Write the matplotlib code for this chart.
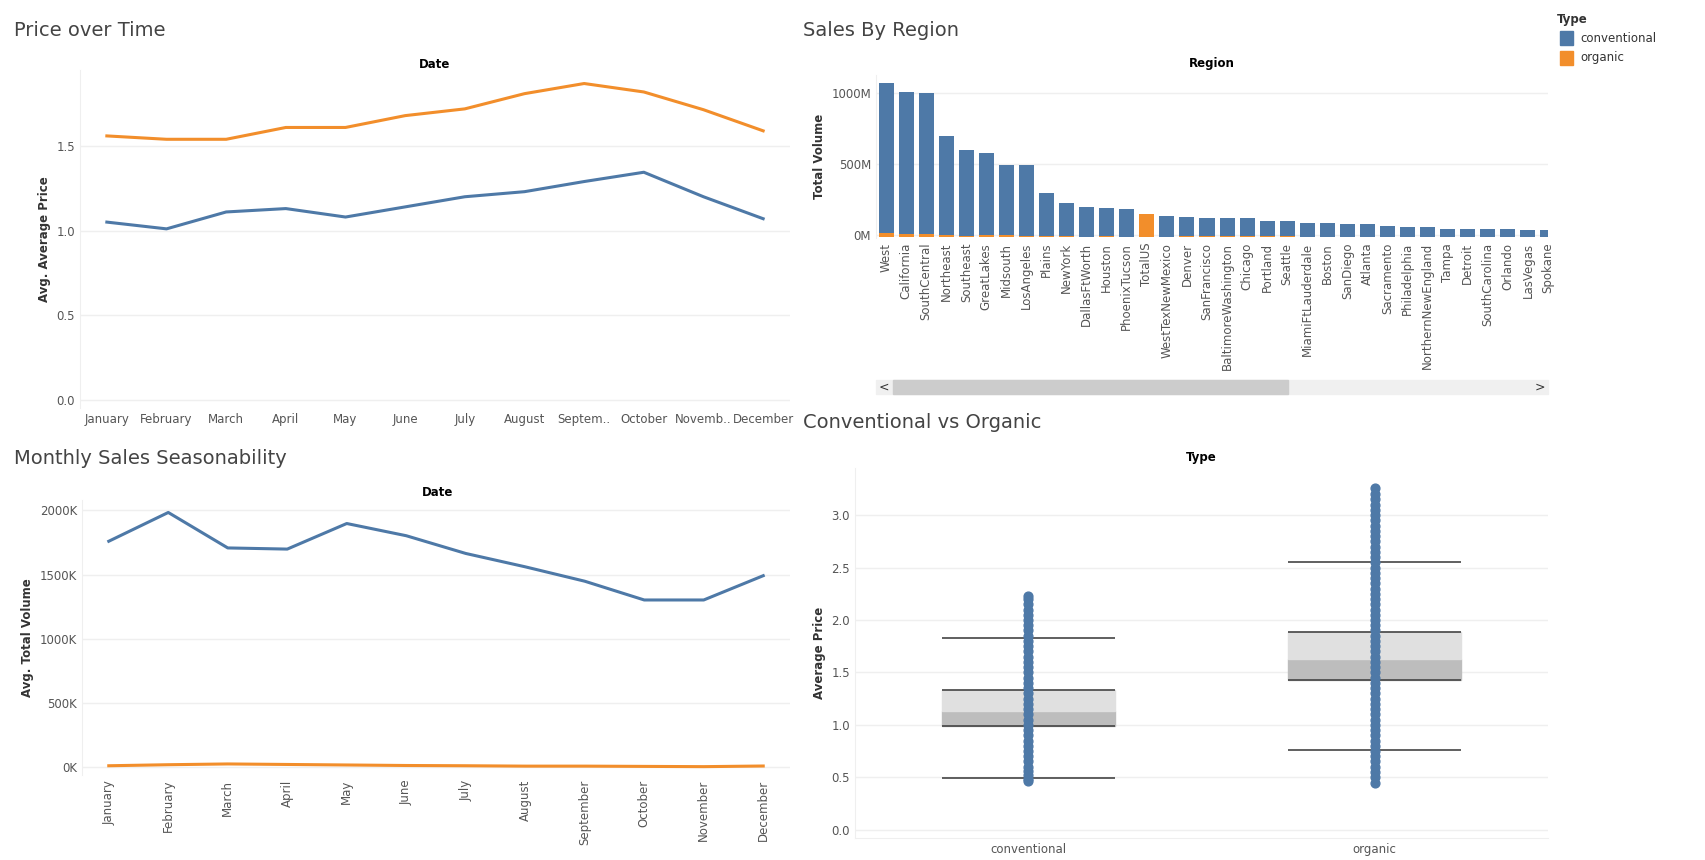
import matplotlib.pyplot as plt
import numpy as np
from matplotlib.patches import Rectangle

plt.rcParams['font.family'] = ['DejaVu Sans']

BLUE = '#4e79a7'
ORANGE = '#f28e2b'
GRID = '#efefef'
TXT = '#555555'

months = ['January', 'February', 'March', 'April', 'May', 'June', 'July',
          'August', 'September', 'October', 'November', 'December']
months_short = ['January', 'February', 'March', 'April', 'May', 'June', 'July',
                'August', 'Septem..', 'October', 'Novemb..', 'December']
price_conv = [1.05, 1.01, 1.11, 1.13, 1.08, 1.14, 1.20, 1.23, 1.29, 1.345, 1.20, 1.07]
price_org = [1.56, 1.54, 1.54, 1.61, 1.61, 1.68, 1.72, 1.81, 1.87, 1.82, 1.715, 1.59]
vol_conv = [1759, 1983, 1707, 1698, 1897, 1802, 1664, 1560, 1448, 1302, 1302, 1491]
vol_org = [12, 20, 26, 22, 18, 14, 12, 9, 9, 7, 5, 10]

regions = ['West', 'California', 'SouthCentral', 'Northeast', 'Southeast', 'GreatLakes',
           'Midsouth', 'LosAngeles', 'Plains', 'NewYork', 'DallasFtWorth', 'Houston',
           'PhoenixTucson', 'TotalUS', 'WestTexNewMexico', 'Denver', 'SanFrancisco',
           'BaltimoreWashington', 'Chicago', 'Portland', 'Seattle', 'MiamiFtLauderdale',
           'Boston', 'SanDiego', 'Atlanta', 'Sacramento', 'Philadelphia',
           'NorthernNewEngland', 'Tampa', 'Detroit', 'SouthCarolina', 'Orlando',
           'LasVegas', 'Spokane']
region_total = [1087, 1028, 1016, 714, 615, 594, 509, 509, 312, 242, 214, 207, 200, 164,
                150, 143, 136, 136, 136, 115, 115, 101, 101, 94, 94, 80, 73, 73, 62, 62,
                60, 55, 52, 48]
region_org = [32, 26, 20, 18, 10, 18, 18, 12, 8, 8, 4, 8, 4, 164, 4, 8, 8, 8, 8, 8, 8,
              2, 2, 2, 2, 2, 2, 2, 2, 2, 2, 2, 2, 2]

box_types = ['conventional', 'organic']
box_q1 = [0.99, 1.43]
box_med = [1.13, 1.63]
box_q3 = [1.33, 1.89]
box_wlo = [0.49, 0.76]
box_whi = [1.83, 2.55]
pts_conv = [0.46, 0.48, 0.52, 0.56, 0.6, 0.65, 0.7, 0.75, 0.8, 0.85, 0.9, 0.95, 1.0,
            1.05, 1.1, 1.15, 1.2, 1.25, 1.3, 1.35, 1.4, 1.45, 1.5, 1.55, 1.6, 1.65, 1.7,
            1.75, 1.8, 1.85, 1.9, 1.95, 2.0, 2.05, 2.1, 2.15, 2.2, 2.23]
pts_org = [0.44, 0.5, 0.55, 0.6, 0.65, 0.7, 0.75, 0.8, 0.85, 0.9, 0.95, 1.0, 1.05, 1.1,
           1.15, 1.2, 1.25, 1.3, 1.35, 1.4, 1.45, 1.5, 1.55, 1.6, 1.65, 1.7, 1.75, 1.8,
           1.85, 1.9, 1.95, 2.0, 2.05, 2.1, 2.15, 2.2, 2.25, 2.3, 2.35, 2.4, 2.45, 2.5,
           2.55, 2.6, 2.65, 2.7, 2.75, 2.8, 2.85, 2.9, 2.95, 3.0, 3.05, 3.1, 3.15, 3.2, 3.26]

W, H = 1705, 860
fig = plt.figure(figsize=(W / 100, H / 100), dpi=100)


def add_ax(x0, y0, x1, y1):
    return fig.add_axes([x0 / W, 1 - y1 / H, (x1 - x0) / W, (y1 - y0) / H])


def style(ax):
    for s in ax.spines.values():
        s.set_visible(False)
    ax.spines['left'].set_visible(True)
    ax.spines['left'].set_color(GRID)
    ax.grid(axis='y', color=GRID, linewidth=1)
    ax.set_axisbelow(True)
    ax.tick_params(length=0, labelsize=8.5, colors=TXT)


def ftext(x, y, s, **kw):
    fig.text(x / W, 1 - y / H, s, **kw)


# Price over Time
ax1 = add_ax(80, 70, 790, 408)
style(ax1)
x = np.arange(len(months))
ax1.plot(x, price_org, color=ORANGE, lw=2.2)
ax1.plot(x, price_conv, color=BLUE, lw=2.2)
ax1.set_xlim(-0.45, 11.45)
ax1.set_ylim(-0.05, 1.95)
ax1.set_yticks([0, 0.5, 1.0, 1.5])
ax1.set_xticks(x)
ax1.set_xticklabels(months_short)
ax1.set_ylabel('Avg. Average Price', fontsize=8.5, fontweight='bold', color='#333333')
ftext(14, 30, 'Price over Time', fontsize=14, color='#444444', va='center')
ftext(435, 64, 'Date', fontsize=8.5, fontweight='bold', ha='center', va='center')

# Monthly Sales Seasonability
ax3 = add_ax(82, 500, 790, 775)
style(ax3)
ax3.plot(x, vol_conv, color=BLUE, lw=2.2)
ax3.plot(x, vol_org, color=ORANGE, lw=2.2)
ax3.set_xlim(-0.45, 11.45)
ax3.set_ylim(-60, 2080)
ax3.set_yticks([0, 500, 1000, 1500, 2000])
ax3.set_yticklabels(['0K', '500K', '1000K', '1500K', '2000K'])
ax3.set_xticks(x)
ax3.set_xticklabels(months, rotation=90)
ax3.set_ylabel('Avg. Total Volume', fontsize=8.5, fontweight='bold', color='#333333')
ftext(14, 458, 'Monthly Sales Seasonability', fontsize=14, color='#444444', va='center')
ftext(438, 493, 'Date', fontsize=8.5, fontweight='bold', ha='center', va='center')

# Sales By Region
ax2 = add_ax(876, 75, 1548, 238)
style(ax2)
xr = np.arange(len(regions))
conv_part = [t - o for t, o in zip(region_total, region_org)]
ax2.bar(xr, region_org, width=0.75, color=ORANGE, bottom=[-15] * len(xr))
ax2.bar(xr, conv_part, width=0.75, color=BLUE, bottom=[o - 15 for o in region_org])
ax2.set_xlim(-0.5, 32.6)
ax2.set_ylim(-20, 1130)
ax2.set_yticks([0, 500, 1000])
ax2.set_yticklabels(['0M', '500M', '1000M'])
ax2.set_xticks(xr)
ax2.set_xticklabels(regions, rotation=90)
ax2.set_ylabel('Total Volume', fontsize=8.5, fontweight='bold', color='#333333')
ftext(803, 30, 'Sales By Region', fontsize=14, color='#444444', va='center')
ftext(1212, 64, 'Region', fontsize=8.5, fontweight='bold', ha='center', va='center')
# scrollbar
fig.patches.append(Rectangle((876 / W, 1 - 394 / H), 672 / W, 14 / H,
                             transform=fig.transFigure, color='#f0f0f0'))
fig.patches.append(Rectangle((893 / W, 1 - 394 / H), 395 / W, 14 / H,
                             transform=fig.transFigure, color='#cccccc'))
ftext(884, 387, '<', fontsize=9, ha='center', va='center', color='#333333')
ftext(1540, 387, '>', fontsize=9, ha='center', va='center', color='#333333')

# legend
ftext(1557, 19, 'Type', fontsize=8.5, fontweight='bold', va='center', color='#333333')
for i, (lab, c) in enumerate([('conventional', BLUE), ('organic', ORANGE)]):
    yy = 38 + i * 20
    fig.patches.append(Rectangle((1560 / W, 1 - (yy + 7) / H), 13 / W, 14 / H,
                                 transform=fig.transFigure, color=c))
    ftext(1580, yy, lab, fontsize=8.5, va='center', color='#333333')

# Conventional vs Organic
ax4 = add_ax(855, 468, 1548, 838)
style(ax4)
ax4.spines['bottom'].set_visible(True)
ax4.spines['bottom'].set_color(GRID)
bw = 0.5
for i in range(2):
    ax4.add_patch(Rectangle((i - bw / 2, box_q1[i]), bw, box_med[i] - box_q1[i],
                            color='#bdbdbd', zorder=2))
    ax4.add_patch(Rectangle((i - bw / 2, box_med[i]), bw, box_q3[i] - box_med[i],
                            color='#e0e0e0', zorder=2))
    for v in (box_wlo[i], box_q1[i], box_q3[i], box_whi[i]):
        ax4.hlines(v, i - bw / 2, i + bw / 2, color='#444444', lw=1.2, zorder=3)
ax4.scatter([0] * len(pts_conv), pts_conv, s=40, color=BLUE, zorder=4)
ax4.scatter([1] * len(pts_org), pts_org, s=40, color=BLUE, zorder=4)
ax4.set_xlim(-0.5, 1.5)
ax4.set_ylim(-0.08, 3.45)
ax4.set_yticks([0, 0.5, 1.0, 1.5, 2.0, 2.5, 3.0])
ax4.set_xticks([0, 1])
ax4.set_xticklabels(box_types)
ax4.set_ylabel('Average Price', fontsize=8.5, fontweight='bold', color='#333333')
ftext(803, 423, 'Conventional vs Organic', fontsize=14, color='#444444', va='center')
ftext(1201, 458, 'Type', fontsize=8.5, fontweight='bold', ha='center', va='center')

fig.savefig('out.png', dpi=100)
